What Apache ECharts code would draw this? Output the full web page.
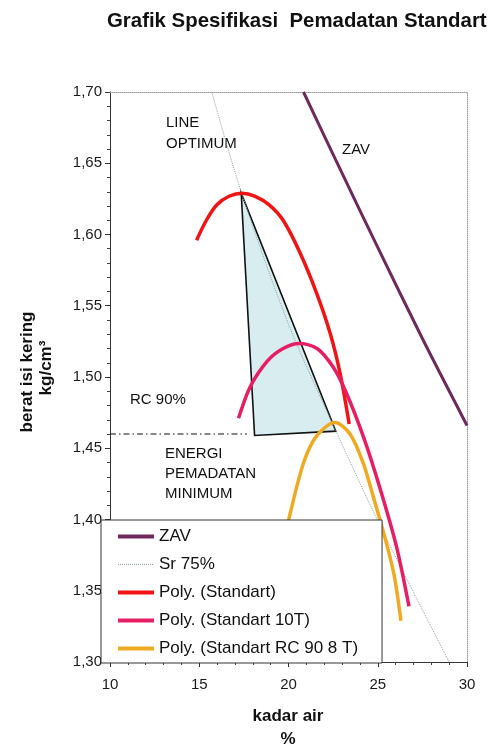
<!DOCTYPE html>
<html><head><meta charset="utf-8">
<script src="https://cdn.jsdelivr.net/npm/echarts@6/dist/echarts.min.js"></script>
<style>html,body{margin:0;padding:0;background:#fff}#c{width:497px;height:747px}</style>
</head><body><div id="c"></div>
<script>
// ---- data ----
const seriesNames = ['ZAV', 'Sr 75%', 'Poly. (Standart)', 'Poly. (Standart 10T)', 'Poly. (Standart RC 90 8 T)'];

const zavX = [20.84, 23.0, 25.0, 27.5, 30.0];
const zavY = [1.700, 1.643, 1.591, 1.527, 1.466];

const sr75X = [15.7, 17.35, 20.0, 22.7, 25.0, 27.0, 29.0];
const sr75Y = [1.700, 1.630, 1.537, 1.461, 1.399, 1.349, 1.300];

const stdX = [14.85, 15.4, 16.0, 16.7, 17.4, 18.1, 18.9, 19.7, 20.65, 21.6, 22.35, 22.9, 23.4];
const stdY = [1.596, 1.610, 1.621, 1.627, 1.629, 1.627, 1.621, 1.610, 1.587, 1.558, 1.530, 1.502, 1.467];

const t10X = [17.2, 17.85, 18.8, 19.7, 20.6, 21.6, 22.5, 23.2, 24.2, 25.1, 26.05, 26.75];
const t10Y = [1.471, 1.493, 1.511, 1.520, 1.5235, 1.520, 1.507, 1.490, 1.458, 1.423, 1.381, 1.339];

const rcX = [19.85, 20.05, 20.85, 21.6, 22.6, 23.45, 24.2, 24.75, 25.3, 25.9, 26.3];
const rcY = [1.390, 1.402, 1.440, 1.459, 1.468, 1.460, 1.439, 1.416, 1.392, 1.362, 1.329];

const triX = [17.35, 18.1, 22.65];
const triY = [1.629, 1.459, 1.462];

const rcLineX = [10, 17.67];
const rcLineY = [1.46, 1.46];

const xTicks = [10, 15, 20, 25, 30];
const yTicks = [1.30, 1.35, 1.40, 1.45, 1.50, 1.55, 1.60, 1.65, 1.70];

const zip = (a, b) => a.map((v, i) => [v, b[i]]);
const FF = "'Liberation Sans', Arial, Helvetica, sans-serif";

const chart = echarts.init(document.getElementById('c'), null, {renderer: 'canvas'});

const curve = (name, xs, ys, color, width, type, smooth) => ({
  type: 'line', name, data: zip(xs, ys), symbol: 'none', showSymbol: false,
  smooth: smooth, z: 3, color,
  lineStyle: {color, width, type: type || 'solid'}
});

const option = {
  backgroundColor: '#fff',
  animation: false,
  textStyle: {fontFamily: FF},
  grid: {left: 110, top: 92, right: 30, bottom: 85, containLabel: false},
  xAxis: [{
    type: 'value', min: xTicks[0], max: xTicks[xTicks.length - 1], interval: 5, position: 'bottom',
    axisLine: {show: true, onZero: false, lineStyle: {color: '#333', width: 1}},
    axisTick: {show: true, length: 5, lineStyle: {color: '#333'}},
    minorTick: {show: true, splitNumber: 5, length: 3, lineStyle: {color: '#444'}},
    splitLine: {show: false},
    axisLabel: {fontSize: 15, color: '#1a1a1a', margin: 15, fontFamily: FF}
  }, {
    type: 'value', min: 10, max: 30, position: 'top',
    axisLine: {show: true, onZero: false, lineStyle: {color: '#999', width: 1, type: 'dotted'}},
    axisTick: {show: false}, axisLabel: {show: false}, splitLine: {show: false}
  }],
  yAxis: [{
    type: 'value', min: yTicks[0], max: yTicks[yTicks.length - 1], interval: 0.05, position: 'left',
    axisLine: {show: true, onZero: false, lineStyle: {color: '#333', width: 1}},
    axisTick: {show: true, length: 5, lineStyle: {color: '#333'}},
    minorTick: {show: true, splitNumber: 5, length: 3, lineStyle: {color: '#444'}},
    splitLine: {show: false},
    axisLabel: {fontSize: 15, color: '#1a1a1a', margin: 8, fontFamily: FF,
      formatter: v => v.toFixed(2).replace('.', ',')}
  }, {
    type: 'value', min: 1.30, max: 1.70, position: 'right',
    axisLine: {show: true, onZero: false, lineStyle: {color: '#999', width: 1, type: 'dotted'}},
    axisTick: {show: false}, axisLabel: {show: false}, splitLine: {show: false}
  }],
  legend: {
    orient: 'vertical', left: 101, top: 520,
    data: seriesNames.map((n, i) => ({name: n, lineStyle: {width: i === 1 ? 1 : 4}})),
    backgroundColor: '#fff', borderColor: '#333', borderWidth: 1, borderRadius: 0,
    padding: [8, 24, 6, 15], itemGap: 11, itemWidth: 36, itemHeight: 14,
    itemStyle: {opacity: 0, borderWidth: 0},
    textStyle: {fontSize: 17, color: '#111', fontFamily: FF}
  },
  series: [
    {
      type: 'custom', name: 'triangle', silent: true, z: 1,
      data: zip(triX, triY), encode: {x: 0, y: 1},
      renderItem: (params, api) => {
        if (params.dataIndex !== 0) return null;
        const pts = triX.map((x, i) => api.coord([x, triY[i]]));
        return {type: 'polygon', shape: {points: pts},
          style: {fill: '#d7edef', stroke: '#111', lineWidth: 1.6}};
      }
    },
    {type: 'line', name: 'rcline', data: zip(rcLineX, rcLineY), symbol: 'none', silent: true, z: 2,
      lineStyle: {color: '#111', width: 1.2, type: [6, 3, 1.5, 3]}},
    curve(seriesNames[0], zavX, zavY, '#6e2a5c', 3, 'solid', 0.3),
    curve(seriesNames[1], sr75X, sr75Y, '#8fa3a3', 1, 'dotted', 0.3),
    curve(seriesNames[2], stdX, stdY, '#f01414', 3.5, 'solid', 0.3),
    curve(seriesNames[3], t10X, t10Y, '#e81e64', 3.5, 'solid', 0.3),
    curve(seriesNames[4], rcX, rcY, '#f0aa22', 3.5, 'solid', 0.3)
  ],
  graphic: [
    {type: 'text', left: 107, top: 11, style: {text: 'Grafik Spesifikasi  Pemadatan Standart',
      font: "bold 20.4px " + FF, fill: '#111'}},
    {type: 'text', x: 166, y: 112, style: {text: 'LINE\nOPTIMUM', font: '15px ' + FF, fill: '#111', lineHeight: 21.5}},
    {type: 'text', x: 342, y: 142, style: {text: 'ZAV', font: '15px ' + FF, fill: '#111'}},
    {type: 'text', x: 130, y: 392, style: {text: 'RC 90%', font: '15px ' + FF, fill: '#111'}},
    {type: 'text', x: 165, y: 444, style: {text: 'ENERGI\nPEMADATAN\nMINIMUM', font: '15px ' + FF, fill: '#111', lineHeight: 20}},
    {type: 'text', x: 27, y: 372, rotation: Math.PI / 2,
      style: {text: 'berat isi kering', font: 'bold 17px ' + FF, fill: '#111', align: 'center', verticalAlign: 'middle'}},
    {type: 'text', x: 46, y: 368, rotation: Math.PI / 2,
      style: {text: 'kg/cm³', font: 'bold 17px ' + FF, fill: '#111', align: 'center', verticalAlign: 'middle'}},
    {type: 'text', x: 288, y: 716, style: {text: 'kadar air', font: 'bold 17px ' + FF, fill: '#111', align: 'center', verticalAlign: 'middle'}},
    {type: 'text', x: 288, y: 739, style: {text: '%', font: 'bold 17px ' + FF, fill: '#111', align: 'center', verticalAlign: 'middle'}}
  ]
};
chart.setOption(option);
</script></body></html>
